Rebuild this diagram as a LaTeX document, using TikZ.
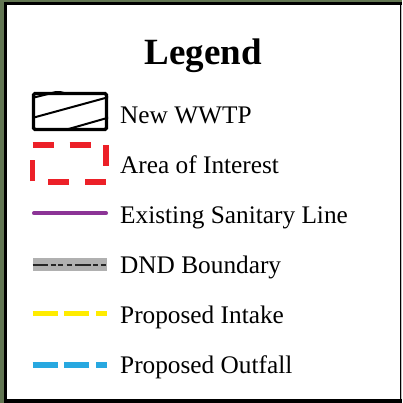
\documentclass[tikz,border=0pt]{standalone}
\usepackage{fontspec}
\setmainfont{Liberation Serif}
\definecolor{bggreen}{RGB}{98,118,82}
\definecolor{aoired}{RGB}{236,32,40}
\definecolor{sanpurple}{RGB}{140,52,150}
\definecolor{dndgray}{RGB}{176,176,176}
\definecolor{intakeyellow}{RGB}{255,236,0}
\definecolor{outfallblue}{RGB}{40,168,224}
\begin{document}
\begin{tikzpicture}[x=1pt,y=-1pt,
  itemtext/.style={anchor=base west,inner sep=0pt,font=\fontsize{25.3}{28}\selectfont},
  proposed/.style={line width=5.3pt,dash pattern=on 25pt off 6.7pt,line cap=butt}]
\useasboundingbox (0,0) rectangle (402,403);
\fill[bggreen] (0,0) rectangle (402,403);
\fill[black] (4,2) rectangle (402,403);
\fill[white] (7,5) rectangle (400,399);
\fill[black!25] (400.5,5) rectangle (402,399);
% title
\node[anchor=base,inner sep=0pt,font=\fontsize{37}{40}\selectfont\bfseries] (title) at (203,64.7) {Legend};
% New WWTP
\begin{scope}
\clip (32,92) rectangle (108,131);
\draw[line width=2pt] (20,101) -- (80,86);
\draw[line width=2pt] (20,121.3) -- (120,94);
\draw[line width=2pt] (20,142.9) -- (120,114.3);
\end{scope}
\draw[line width=3.2pt,rounded corners=1.5pt] (33.5,93.5) rectangle (106.5,129.5);
\node[itemtext] (wwtp) at (120,123.3) {New WWTP};
% Area of interest
\draw[aoired,line width=5.5pt,line cap=butt,dash pattern=on 21pt off 16pt]
  (32.5,145) -- (106,145) -- (106,182) -- (32.5,182) -- cycle;
\node[itemtext] (aoi) at (120,173.3) {Area of Interest};
% Existing sanitary line
\draw[sanpurple,line width=4pt,line cap=round] (34,213.3) -- (106,213.3);
\node[itemtext] (san) at (120,223.3) {Existing Sanitary Line};
% DND boundary
\fill[dndgray] (32.7,258) rectangle (107,271);
\draw[black!85,line width=1.4pt,dash pattern=on 15.6pt off 2.4pt on 5pt off 2.6pt on 5pt off 3.4pt on 5.6pt off 2.7pt]
  (32.7,265) -- (107,265);
\node[itemtext] (dnd) at (120,273.3) {DND Boundary};
% Proposed intake
\draw[intakeyellow,proposed] (32.7,313.3) -- (106.7,313.3);
\node[itemtext] (intake) at (120,323.3) {Proposed Intake};
% Proposed outfall
\draw[outfallblue,proposed] (32.7,365) -- (106.7,365);
\node[itemtext] (outfall) at (120,373.3) {Proposed Outfall};
\end{tikzpicture}
\end{document}
